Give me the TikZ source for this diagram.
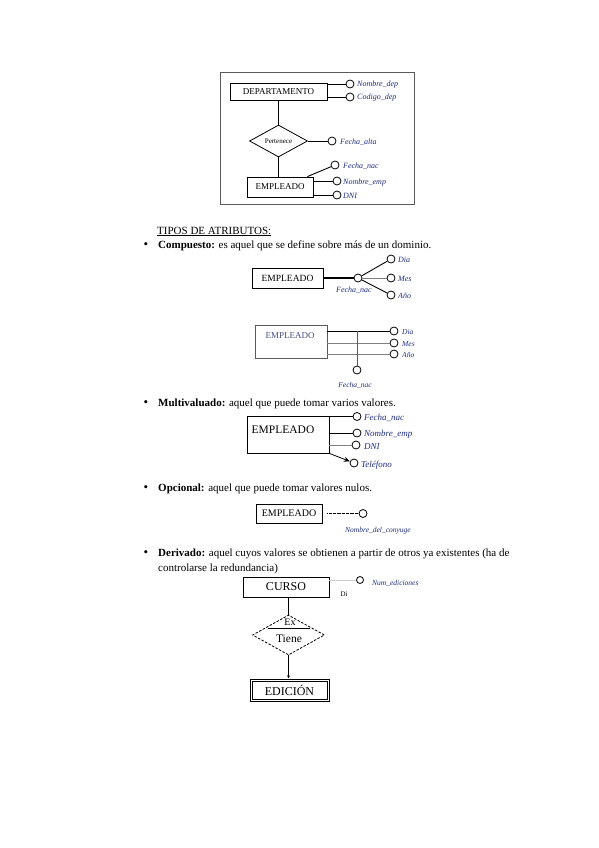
\documentclass[tikz,border=0pt]{standalone}
\usepackage{fontspec}
\setmainfont{Liberation Serif}
\usetikzlibrary{shapes.geometric,arrows.meta}
\definecolor{lab}{RGB}{30,45,130}
\definecolor{framec}{RGB}{90,90,90}
\begin{document}
\begin{tikzpicture}[x=1pt,y=-1pt,
  ebox/.style={draw, line width=0.8pt, inner sep=0pt},
  att/.style={circle, draw, fill=white, minimum size=8pt, inner sep=0pt, line width=0.8pt},
  lbl/.style={anchor=base west, inner sep=0pt, text=lab, font=\fontsize{8}{9}\selectfont\itshape},
  body/.style={anchor=base west, inner sep=0pt, font=\fontsize{11}{13}\selectfont},
  bul/.style={anchor=base, inner sep=0pt, font=\fontsize{13}{13}\selectfont},
  conn/.style={line width=0.9pt}
]
\useasboundingbox (0,0) rectangle (599,848);
\fill[white] (0,0) rectangle (599,848);

% ---------- top figure ----------
\draw[framec, line width=0.8pt] (220,72) rectangle (414,204);
\node[ebox, minimum width=97pt, minimum height=17pt, font=\fontsize{9}{10}\selectfont] (dep) at (278.5,91.5) {DEPARTAMENTO};
\node[att] (nd) at (350,84) {};
\node[att] (cd) at (350,97) {};
\draw[conn] (dep.east |- nd) -- (nd);
\draw[conn] (dep.east |- cd) -- (cd);
\node[lbl] (ndl) at (357,87) {Nombre\_dep};
\node[lbl] (cdl) at (357,100) {Codigo\_dep};

\node[draw, diamond, aspect=1.8, minimum width=58pt, minimum height=32pt, inner sep=0pt, line width=0.8pt, font=\fontsize{7}{8}\selectfont] (per) at (278.5,141) {Pertenece};
\draw[conn] (dep.south) -- (per.north);
\node[att] (fa) at (332,141) {};
\draw[conn] (per.east) -- (fa);
\node[lbl] (fal) at (340,144) {Fecha\_alta};

\node[ebox, minimum width=66pt, minimum height=20pt, font=\fontsize{9}{10}\selectfont] (emp1) at (280,187) {EMPLEADO};
\draw[conn] (per.south) -- (per.south |- emp1.north);
\node[att] (fn1) at (335,165) {};
\node[att] (ne1) at (337,181) {};
\node[att] (dn1) at (337,195) {};
\draw[conn] ([xshift=-6pt]emp1.north east) -- (fn1);
\draw[conn] (emp1.east |- ne1) -- (ne1);
\draw[conn] (emp1.east |- dn1) -- (dn1);
\node[lbl] (fn1l) at (343,168) {Fecha\_nac};
\node[lbl] (ne1l) at (343,184) {Nombre\_emp};
\node[lbl] (dn1l) at (343,198) {DNI};

% ---------- texts ----------
\node[body] (tt) at (157,234) {\underline{TIPOS DE ATRIBUTOS:}};
\node[bul] (b1) at (146,248) {\textbullet};
\node[body] (t1) at (158,248) {\textbf{Compuesto:} es aquel que se define sobre más de un dominio.};
\node[bul] (b2) at (146,406) {\textbullet};
\node[body] (t2) at (158,406) {\textbf{Multivaluado:} aquel que puede tomar varios valores.};
\node[bul] (b3) at (146,491) {\textbullet};
\node[body] (t3) at (158,491) {\textbf{Opcional:} aquel que puede tomar valores nulos.};
\node[bul] (b4) at (146,556) {\textbullet};
\node[body] (t4) at (158,556) {\textbf{Derivado:} aquel cuyos valores se obtienen a partir de otros ya existentes (ha de};
\node[body] (t4b) at (158,571) {controlarse la redundancia)};

% ---------- compuesto 1 ----------
\node[ebox, minimum width=71pt, minimum height=20pt, font=\fontsize{9.5}{11}\selectfont] (cp1) at (287.5,278) {EMPLEADO};
\node[att] (fc1) at (358,278) {};
\draw[line width=1.2pt] (cp1.east) -- (fc1);
\node[att] (da1) at (391,259) {};
\node[att] (me1) at (391,278) {};
\node[att] (an1) at (391,295) {};
\draw[line width=0.9pt] (fc1) -- (da1);
\draw[gray, line width=0.5pt] (fc1) -- (me1);
\draw[line width=0.9pt] (fc1) -- (an1);
\node[lbl] (da1l) at (398,262) {Dia};
\node[lbl] (me1l) at (398,281) {Mes};
\node[lbl] (an1l) at (398,298) {Año};
\node[lbl, anchor=base] (fc1l) at (354,292) {Fecha\_nac};

% ---------- compuesto 2 ----------
\node[ebox, draw=framec, line width=0.7pt, minimum width=72pt, minimum height=33pt] (cp2) at (291,341.5) {};
\node[inner sep=0pt, text=lab!60!gray, font=\fontsize{9}{10}\selectfont] (cp2t) at (290,335.5) {EMPLEADO};
\node[att] (da2) at (394,331) {};
\node[att] (me2) at (394,343) {};
\node[att] (an2) at (394,354) {};
\node[att] (fn3) at (357,370) {};
\draw[line width=0.9pt] (cp2.east |- da2) -- (da2);
\draw[gray, line width=0.5pt] (cp2.east |- me2) -- (me2);
\draw[gray, line width=0.5pt] (cp2.east |- an2) -- (an2);
\coordinate (j2) at (fn3 |- da2);
\draw[gray!70!black, line width=0.6pt] (j2) -- (fn3);
\node[lbl, font=\fontsize{7.5}{9}\selectfont\itshape] (da2l) at (402,334) {Dia};
\node[lbl, font=\fontsize{7.5}{9}\selectfont\itshape] (me2l) at (402,346) {Mes};
\node[lbl, font=\fontsize{7.5}{9}\selectfont\itshape] (an2l) at (402,357) {Año};
\node[lbl, anchor=base, font=\fontsize{7.5}{9}\selectfont\itshape] (fn3l) at (355,387) {Fecha\_nac};

% ---------- multivaluado ----------
\node[ebox, minimum width=82pt, minimum height=37pt] (mv) at (288,434.5) {};
\node[inner sep=0pt, font=\fontsize{11.5}{13}\selectfont] (mvt) at (283,430) {EMPLEADO};
\node[att] (fn4) at (357,416.5) {};
\node[att] (ne4) at (357,433) {};
\node[att] (dn4) at (356,445) {};
\node[att] (te4) at (354,463) {};
\draw[line width=0.9pt] (mv.east |- fn4) -- (fn4);
\draw[line width=1pt] (mv.east |- ne4) -- (ne4);
\draw[gray, line width=0.4pt] (mv.east |- dn4) -- (dn4);
\draw[line width=0.8pt, -{Stealth[length=6pt,width=5pt]}] (mv.south east) -- (te4);
\node[lbl, font=\fontsize{9}{10}\selectfont\itshape] (fn4l) at (364,420) {Fecha\_nac};
\node[lbl, font=\fontsize{9}{10}\selectfont\itshape] (ne4l) at (364,436) {Nombre\_emp};
\node[lbl, font=\fontsize{9}{10}\selectfont\itshape] (dn4l) at (364,449) {DNI};
\node[lbl, font=\fontsize{9}{10}\selectfont\itshape] (te4l) at (361,467) {Teléfono};

% ---------- opcional ----------
\node[ebox, minimum width=66pt, minimum height=19pt, font=\fontsize{10}{12}\selectfont] (op) at (289,513.5) {EMPLEADO};
\node[att] (cy) at (363,513.5) {};
\draw[line width=0.5pt, dash pattern=on 0.8pt off 0.5pt] ([xshift=5pt]op.east) -- (cy);
\node[lbl, anchor=base, font=\fontsize{7.5}{9}\selectfont\itshape] (cyl) at (378,532) {Nombre\_del\_conyuge};

% ---------- derivado ----------
\node[ebox, minimum width=86pt, minimum height=20pt, font=\fontsize{12}{14}\selectfont] (cur) at (286,587) {CURSO};
\node[att, minimum size=7pt] (nu) at (360,580) {};
\draw[gray!40, line width=0.4pt] (cur.east |- nu) -- (nu);
\node[lbl, font=\fontsize{7.5}{9}\selectfont\itshape] (nul) at (372,585) {Num\_ediciones};
\node[inner sep=0pt, font=\fontsize{7}{8}\selectfont] (di) at (344,594) {Di};

\node[draw, dash pattern=on 2.5pt off 1.5pt, diamond, aspect=1.8, minimum width=72pt, minimum height=40pt, inner sep=0pt, line width=0.8pt] (tie) at (288.5,635) {};
\node[inner sep=0pt, font=\fontsize{11.5}{13}\selectfont] (tiet) at (289,639) {Tiene};
\node[inner sep=0pt, font=\fontsize{10}{12}\selectfont] (ex) at (290,622) {Ex};
\coordinate (exl) at (268,628);
\coordinate (exr) at (310,628);
\draw[line width=0.8pt] (exl) -- (exr);
\draw[conn] (tie.north |- cur.south) -- (tie.north);

\node[draw, line width=0.8pt, minimum width=79pt, minimum height=22pt, inner sep=0pt, font=\fontsize{12}{14}\selectfont] (edi) at (289.5,690) {EDICIÓN};
\draw[line width=0.7pt] ([shift={(2.5pt,-2.5pt)}]edi.north west) rectangle ([shift={(-2.5pt,2.5pt)}]edi.south east);
\draw[conn, -{Latex[length=3pt,width=3pt]}] (tie.south) -- (tie.south |- edi.north);
\end{tikzpicture}
\end{document}
